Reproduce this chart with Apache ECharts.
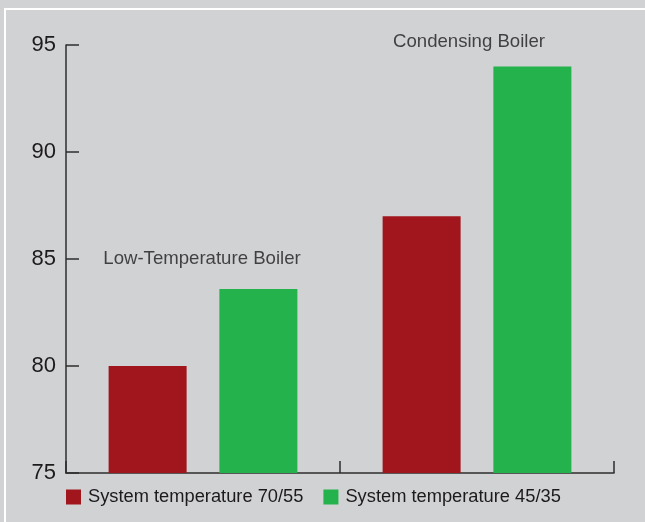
<!DOCTYPE html>
<html>
<head>
<meta charset="utf-8">
<script src="https://cdn.jsdelivr.net/npm/echarts@6/dist/echarts.min.js"></script>
<style>
  html, body { margin: 0; padding: 0; background: #d1d2d4; }
  #chart { width: 645px; height: 522px; }
</style>
</head>
<body>
<div id="chart"></div>
<script>
// Boiler efficiency (%) by system temperature
const categories = ['Low-Temperature Boiler', 'Condensing Boiler'];
const seriesNames = ['System temperature 70/55', 'System temperature 45/35'];
const temp7055 = [80, 87];
const temp4535 = [83.6, 94];
const yTicks = [75, 80, 85, 90, 95];

const FONT = '"Liberation Sans", Arial, Helvetica, sans-serif';
const AXIS_COLOR = '#2e2e2e';
const TEXT_COLOR = '#1c1a1b';

const chart = echarts.init(document.getElementById('chart'), null, { renderer: 'canvas' });

chart.setOption({
  backgroundColor: '#d1d2d4',
  animation: false,
  textStyle: { fontFamily: FONT },
  grid: { left: 66, right: 31, top: 45, bottom: 49, containLabel: false },
  legend: {
    data: seriesNames,
    left: 66,
    top: 488,
    padding: 0,
    icon: 'rect',
    itemWidth: 15,
    itemHeight: 15,
    itemGap: 20,
    selectedMode: false,
    textStyle: { fontSize: 18.3, color: TEXT_COLOR, fontFamily: FONT, padding: [0, 0, 0, 2] }
  },
  xAxis: {
    type: 'category',
    data: categories,
    boundaryGap: true,
    axisLine: { show: true, lineStyle: { color: AXIS_COLOR, width: 1.5 } },
    axisTick: { show: true, inside: true, length: 12, lineStyle: { color: AXIS_COLOR, width: 1.5 } },
    axisLabel: { show: false },
    splitLine: { show: false }
  },
  yAxis: {
    type: 'value',
    min: yTicks[0],
    max: yTicks[yTicks.length - 1],
    interval: yTicks[1] - yTicks[0],
    axisLine: { show: true, lineStyle: { color: AXIS_COLOR, width: 1.5 } },
    axisTick: { show: true, inside: true, length: 13, lineStyle: { color: AXIS_COLOR, width: 1.5 } },
    axisLabel: { fontSize: 22, color: TEXT_COLOR, margin: 10, fontFamily: FONT },
    splitLine: { show: false }
  },
  graphic: [
    { type: 'line', shape: { x1: 4, y1: 9, x2: 645, y2: 9 }, style: { stroke: '#ffffff', lineWidth: 2 }, silent: true },
    { type: 'line', shape: { x1: 5, y1: 8, x2: 5, y2: 522 }, style: { stroke: '#ffffff', lineWidth: 2 }, silent: true }
  ],
  series: [
    {
      name: seriesNames[0],
      type: 'bar',
      data: temp7055,
      barWidth: 78,
      barGap: '42%',
      itemStyle: { color: '#a1161c' }
    },
    {
      name: seriesNames[1],
      type: 'bar',
      data: temp4535,
      barWidth: 78,
      barGap: '42%',
      itemStyle: { color: '#23b24b' }
    },
    {
      // group captions above each pair of bars
      type: 'scatter',
      silent: true,
      clip: false,
      symbolSize: 0,
      data: [
        { value: [0, 85], label: { offset: [-1, 0] } },
        { value: [1, 95], label: { offset: [-8, -3] } }
      ],
      label: {
        show: true,
        position: 'inside',
        formatter: p => categories[p.dataIndex],
        fontSize: 18.6,
        color: TEXT_COLOR,
        fontFamily: FONT
      }
    }
  ]
});
</script>
</body>
</html>
